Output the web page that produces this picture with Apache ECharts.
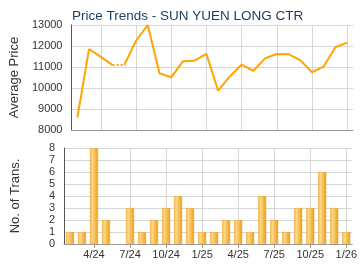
<!DOCTYPE html>
<html>
<head>
<meta charset="utf-8">
<script src="https://cdn.jsdelivr.net/npm/echarts@6/dist/echarts.min.js"></script>
<style>
  html, body { margin: 0; padding: 0; background: #fff; }
  #chart { width: 360px; height: 270px; }
</style>
</head>
<body>
<div id="chart"></div>
<script>
// 月份（2/24 - 1/26）
const months = ['2/24', '3/24', '4/24', '5/24', '6/24', '7/24', '8/24', '9/24', '10/24', '11/24', '12/24', '1/25',
    '2/25', '3/25', '4/25', '5/25', '6/25', '7/25', '8/25', '9/25', '10/25', '11/25', '12/25', '1/26'];

// 平均价格
const prices = [8600, 11850, 11480, 11090, 11090, 12250, 13000, 10700, 10510, 11270, 11300, 11630,
    9870, 10550, 11110, 10810, 11410, 11620, 11610, 11330, 10750, 11020, 11940, 12160];

// 成交宗数
const trans = [1, 1, 8, 2, 0, 3, 1, 2, 3, 4, 3, 1, 1, 2, 2, 1, 4, 2, 1, 3, 3, 6, 3, 1];

const priceTicks = [8000, 9000, 10000, 11000, 12000, 13000];
const transTicks = [0, 1, 2, 3, 4, 5, 6, 7, 8];

const font = '"Liberation Sans", Arial, sans-serif';
const lineColor = '#ffa500';

// x 值 = 月份序号 + 1，刻度落在 3 的倍数上（4/24, 7/24 ...）
const pts = prices.map((v, i) => [i + 1, v]);
const gapIdx = trans.indexOf(0);   // 没有成交的月份用虚线连接
const solidA = pts.slice(0, gapIdx);
const dotted = pts.slice(gapIdx - 1, gapIdx + 1);
const solidB = pts.slice(gapIdx);

const chart = echarts.init(document.getElementById('chart'));

function xAxisBase(grid, showLabel) {
    return {
        type: 'value',
        gridIndex: grid,
        min: 0.5,
        max: months.length + 0.5,
        minInterval: 3,
        maxInterval: 3,
        axisLine: { show: true, onZero: false, lineStyle: { color: '#999', width: 1 } },
        axisTick: { show: showLabel, length: 4, lineStyle: { color: '#999' } },
        axisLabel: {
            show: showLabel,
            showMinLabel: false,
            showMaxLabel: false,
            color: '#333',
            fontFamily: font,
            fontSize: 11,
            margin: 5,
            formatter: v => months[v - 1] || ''
        },
        splitLine: { show: true, showMinLine: false, showMaxLine: false, lineStyle: { color: '#d6d6d6', width: 1 } }
    };
}

function yAxisBase(grid, ticks, name) {
    return {
        type: 'value',
        gridIndex: grid,
        min: ticks[0],
        max: ticks[ticks.length - 1],
        interval: ticks[1] - ticks[0],
        name: name,
        nameLocation: 'middle',
        nameGap: 42,
        nameTextStyle: { color: '#333', fontFamily: font, fontSize: 13 },
        axisLine: { show: true, lineStyle: { color: '#555', width: 1 } },
        axisTick: { show: false },
        axisLabel: { color: '#333', fontFamily: font, fontSize: 11, margin: 9, formatter: v => String(v) },
        splitLine: { show: true, lineStyle: { color: '#d6d6d6', width: 1 } }
    };
}

const barColor = new echarts.graphic.LinearGradient(0, 0, 1, 0, [
    { offset: 0, color: '#f2ae35' },
    { offset: 0.25, color: '#fdd88c' },
    { offset: 0.5, color: '#fbc660' },
    { offset: 1, color: '#eb9d18' }
]);

const option = {
    animation: false,
    title: {
        text: 'Price Trends - SUN YUEN LONG CTR',
        left: 67,
        top: 4,
        textStyle: { color: '#1b3b5e', fontFamily: font, fontSize: 13.5, fontWeight: 'normal' }
    },
    grid: [
        { left: 64, right: 7, top: 25, height: 105 },
        { left: 64, right: 7, top: 148, height: 96 }
    ],
    xAxis: [xAxisBase(0, false), xAxisBase(1, true)],
    yAxis: [
        yAxisBase(0, priceTicks, 'Average Price'),
        yAxisBase(1, transTicks, 'No. of Trans.')
    ],
    series: [
        {
            type: 'line', xAxisIndex: 0, yAxisIndex: 0, data: solidA,
            symbol: 'none', lineStyle: { color: lineColor, width: 2 }
        },
        {
            type: 'line', xAxisIndex: 0, yAxisIndex: 0, data: dotted,
            symbol: 'none', lineStyle: { color: lineColor, width: 2, type: 'dotted' }
        },
        {
            type: 'line', xAxisIndex: 0, yAxisIndex: 0, data: solidB,
            symbol: 'none', lineStyle: { color: lineColor, width: 2 }
        },
        {
            type: 'bar', xAxisIndex: 1, yAxisIndex: 1,
            // 没有成交的月份不画柱
            data: trans.map((v, i) => [i + 1, v === 0 ? null : v]),
            barWidth: 8,
            itemStyle: { color: barColor, borderColor: '#eca52a', borderWidth: 0.5 }
        }
    ]
};
chart.setOption(option);
</script>
</body>
</html>
